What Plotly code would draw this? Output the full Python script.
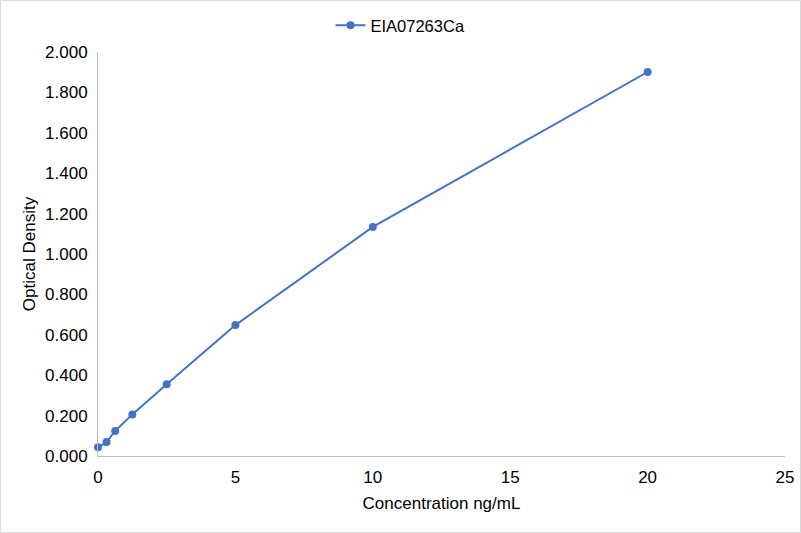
import plotly.graph_objects as go

concentration = [0, 0.3125, 0.625, 1.25, 2.5, 5, 10, 20]
optical_density = [0.043, 0.069, 0.124, 0.206, 0.355, 0.648, 1.134, 1.901]
series_name = "EIA07263Ca"

fig = go.Figure()
fig.add_trace(go.Scatter(
    x=concentration, y=optical_density, mode="lines+markers", name=series_name,
    line=dict(color="#4472C4", width=2), marker=dict(color="#4472C4", size=8),
    cliponaxis=False,
))

fig.update_layout(
    width=801, height=533,
    paper_bgcolor="white", plot_bgcolor="white",
    font=dict(family="Liberation Sans, Arial", size=17, color="#000000"),
    margin=dict(l=98, r=16, t=52, b=77, autoexpand=False),
    showlegend=True,
    legend=dict(orientation="h", x=0.5, xanchor="center", xref="container",
                y=0.985, yanchor="top", yref="container",
                font=dict(size=16.5), bgcolor="rgba(0,0,0,0)"),
    xaxis=dict(range=[0, 25], dtick=5, showgrid=False, zeroline=False,
               showline=True, linecolor="#BFBFBF", linewidth=1, ticks="",
               ticklabelstandoff=6,
               title=dict(text="Concentration ng/mL", font=dict(size=17), standoff=10)),
    yaxis=dict(range=[0, 2.0], dtick=0.2, tickformat=".3f", showgrid=False, zeroline=False,
               showline=True, linecolor="#BFBFBF", linewidth=1, ticks="",
               ticklabelstandoff=6,
               title=dict(text="Optical Density", font=dict(size=17), standoff=5)),
)
fig.add_shape(type="rect", xref="paper", yref="paper",
              x0=-97.5/687, x1=1+15.5/687, y0=-76.5/404, y1=1+51.5/404,
              line=dict(color="#D9D9D9", width=1))

fig.write_html("out.html", config={"responsive": False, "displayModeBar": False},
               post_script="document.body.style.margin='0';document.body.style.overflow='hidden';")
